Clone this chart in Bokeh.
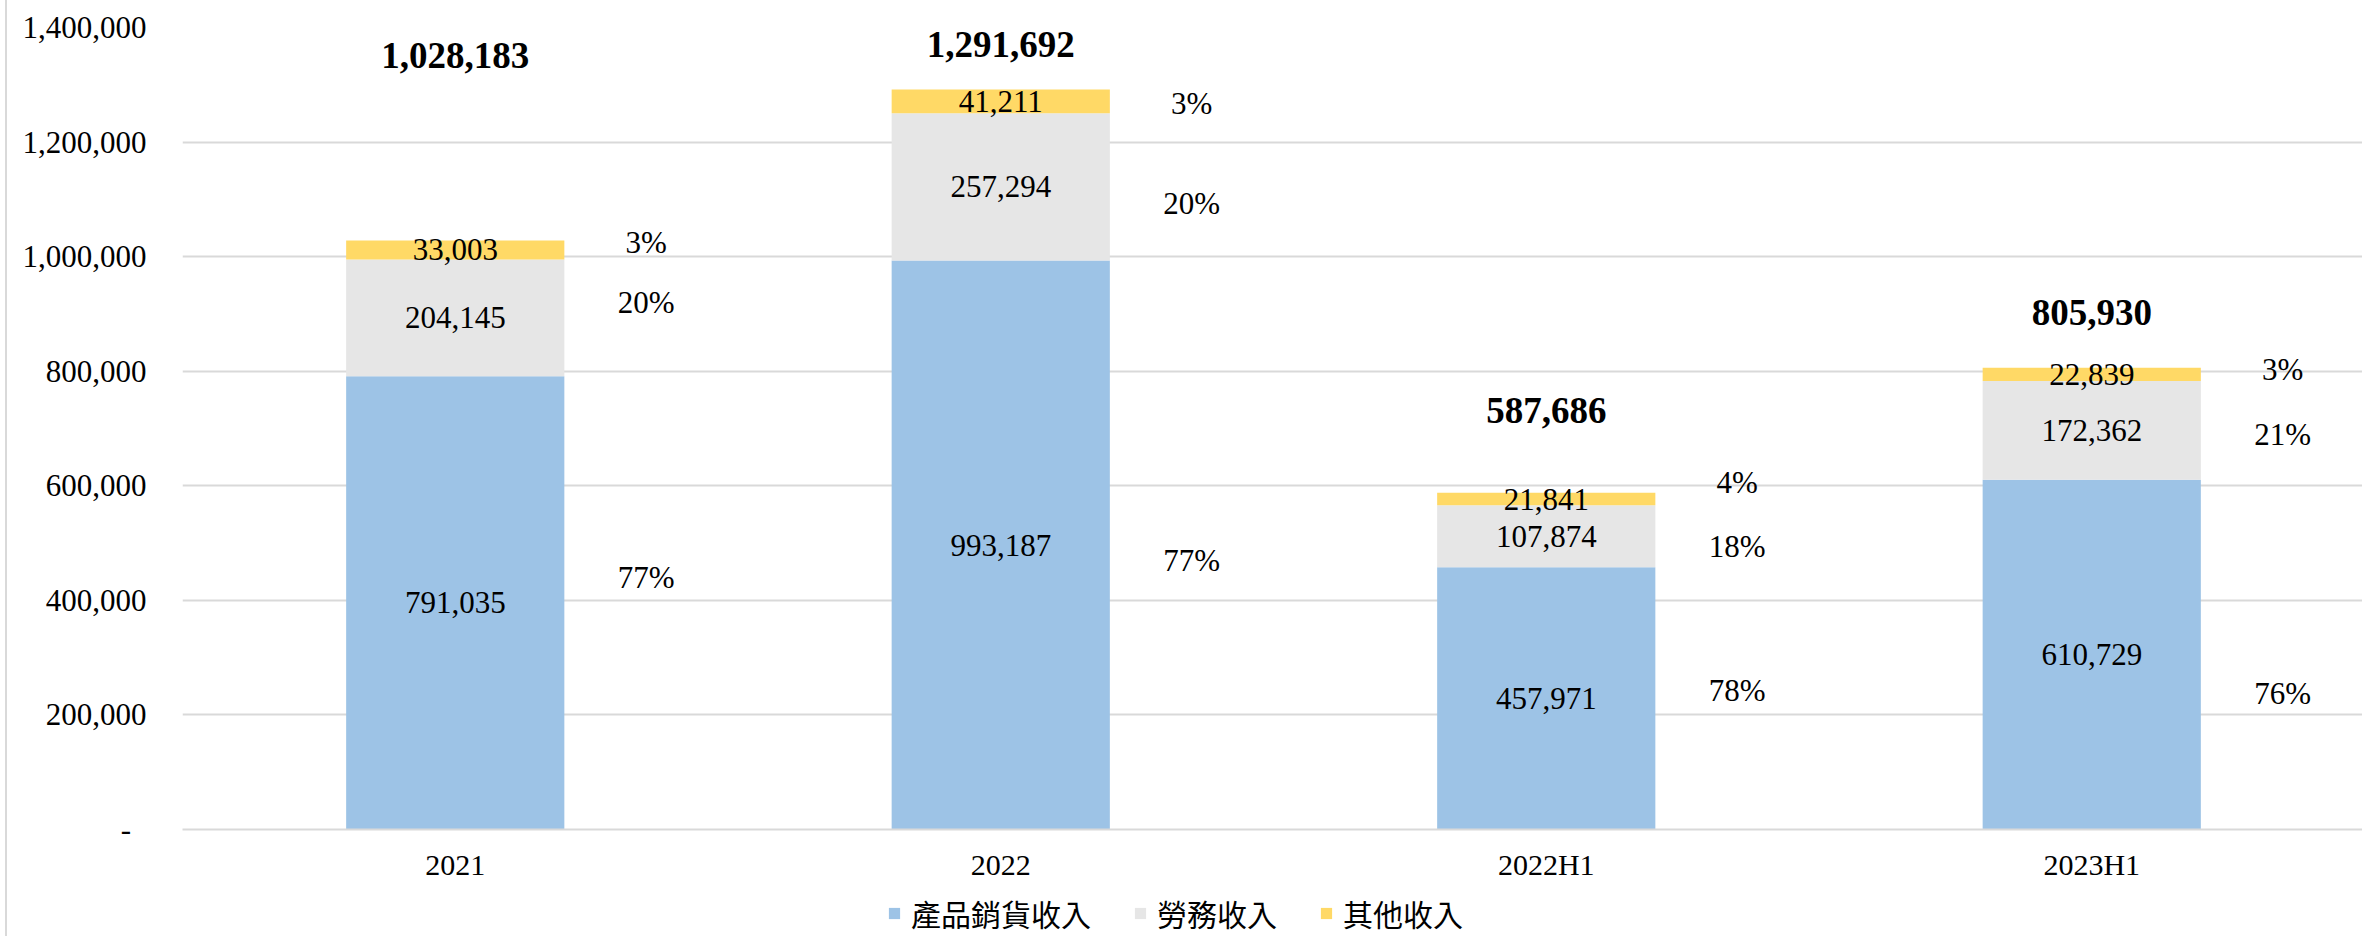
from bokeh.plotting import figure
from bokeh.models import (ColumnDataSource, FixedTicker, Legend, LegendItem,
                          Range1d, CustomJSTickFormatter)
from bokeh.layouts import column
from bokeh.transform import dodge
from bokeh.core.properties import value
from bokeh.embed import file_html
from bokeh.resources import INLINE

# ---- data ----
categories = ["2021", "2022", "2022H1", "2023H1"]
product_sales = [791035, 993187, 457971, 610729]   # 產品銷貨收入
service_income = [204145, 257294, 107874, 172362]  # 勞務收入
other_income = [33003, 41211, 21841, 22839]        # 其他收入
totals = [1028183, 1291692, 587686, 805930]
pct_product = ["77%", "77%", "78%", "76%"]
pct_service = ["20%", "20%", "18%", "21%"]
pct_other = ["3%", "3%", "4%", "3%"]
series_names = ["產品銷貨收入", "勞務收入", "其他收入"]
y_ticks = [0, 200000, 400000, 600000, 800000, 1000000, 1200000, 1400000]

# label anchor heights (value units)
total_label_at = [1351000, 1371000, 731000, 902000]
pct_product_at = [440000, 469000, 243000, 237000]
pct_service_at = [920000, 1093000, 494000, 690000]
pct_other_at = [1025000, 1267000, 606000, 803000]

colors = ["#9DC3E6", "#E6E6E6", "#FFD966"]
serif = value("Liberation Serif")
edge_style = {"margin-left": "5px", "border-left": "2px solid #D9D9D9"}

mid_product = [p / 2 for p in product_sales]
mid_service = [p + s / 2 for p, s in zip(product_sales, service_income)]
mid_other = [p + s + o / 2 for p, s, o in zip(product_sales, service_income, other_income)]

src = ColumnDataSource(dict(
    cat=categories,
    product=product_sales, service=service_income, other=other_income,
    product_lbl=[f"{v:,}" for v in product_sales],
    service_lbl=[f"{v:,}" for v in service_income],
    other_lbl=[f"{v:,}" for v in other_income],
    total_lbl=[f"{v:,}" for v in totals],
    mid_product=mid_product, mid_service=mid_service, mid_other=mid_other,
    total_at=total_label_at,
    pct_product=pct_product, pct_service=pct_service, pct_other=pct_other,
    pct_product_at=pct_product_at, pct_service_at=pct_service_at, pct_other_at=pct_other_at,
))

Y_MAX = 1400000
p = figure(x_range=categories, y_range=Range1d(0, Y_MAX),
           width=2357, height=886, output_backend="svg", toolbar_location=None,
           min_border_left=175, min_border_right=0, min_border_top=27, min_border_bottom=57,
           styles=edge_style)
p.outline_line_color = None
p.background_fill_color = "white"
p.border_fill_color = "white"
p.xgrid.grid_line_color = None
p.ygrid.grid_line_color = "#D9D9D9"
p.ygrid.grid_line_width = 2

renderers = p.vbar_stack(["product", "service", "other"], x="cat", width=0.4,
                         color=colors, line_color=None, source=src)

# y axis
p.yaxis.ticker = FixedTicker(ticks=y_ticks)
p.yaxis.formatter = CustomJSTickFormatter(
    code="return tick == 0 ? '-\u00a0\u00a0' : Math.round(tick).toLocaleString('en-US');")
p.yaxis.axis_line_color = None
p.yaxis.major_tick_line_color = None
p.yaxis.minor_tick_line_color = None
p.yaxis.major_tick_out = 0
p.yaxis.major_tick_in = 0
p.yaxis.major_label_standoff = 36
p.yaxis.major_label_text_font = "Liberation Serif"
p.yaxis.major_label_text_font_size = "31px"
p.yaxis.major_label_text_color = "black"

# x axis
p.xaxis.axis_line_color = "#D9D9D9"
p.xaxis.axis_line_width = 2
p.xaxis.major_tick_line_color = None
p.xaxis.major_tick_out = 0
p.xaxis.major_tick_in = 0
p.xaxis.major_label_standoff = 18
p.xaxis.major_label_text_font = "Liberation Serif"
p.xaxis.major_label_text_font_size = "30px"
p.xaxis.major_label_text_color = "black"

# labels inside bars
for ycol, tcol in [("mid_product", "product_lbl"), ("mid_service", "service_lbl"), ("mid_other", "other_lbl")]:
    p.text(x="cat", y=ycol, text=tcol, source=src, text_font=serif, text_font_size=value("31px"),
           text_align="center", text_baseline="middle", text_color="black")

# totals
p.text(x="cat", y="total_at", text="total_lbl", source=src, text_font=serif,
       text_font_size=value("37px"), text_font_style="bold",
       text_align="center", text_baseline="middle", text_color="black")

# percentages
pct_x = dodge("cat", 0.35, range=p.x_range)
for ycol, tcol in [("pct_product_at", "pct_product"), ("pct_service_at", "pct_service"), ("pct_other_at", "pct_other")]:
    p.text(x=pct_x, y=ycol, text=tcol, source=src, text_font=serif, text_font_size=value("31px"),
           text_align="center", text_baseline="middle", text_color="black")

# ---- legend strip below the chart ----
lf = figure(width=2357, height=50, x_range=Range1d(0, 1), y_range=Range1d(0, 1),
            output_backend="svg", toolbar_location=None,
            min_border_left=0, min_border_right=0, min_border_top=0, min_border_bottom=0,
            styles=edge_style)
lf.axis.visible = False
lf.grid.visible = False
lf.outline_line_color = None
lf.background_fill_color = "white"
lf.border_fill_color = "white"
swatches = [lf.vbar(x=[-5], top=[0], width=0.1, color=c, line_color=None) for c in colors]

legend = Legend(items=[LegendItem(label=n, renderers=[r]) for n, r in zip(series_names, swatches)],
                orientation="horizontal", location=(705, 1))
legend.padding = 0
legend.margin = 0
legend.border_line_color = None
legend.background_fill_alpha = 0
legend.glyph_width = 14
legend.glyph_height = 14
legend.label_standoff = 10
legend.spacing = 42
legend.label_text_font = "Noto Sans CJK TC"
legend.label_text_font_size = "30px"
legend.label_text_color = "black"
lf.add_layout(legend)

layout = column(p, lf, spacing=0)
open("out.html", "w").write(file_html(layout, INLINE))
